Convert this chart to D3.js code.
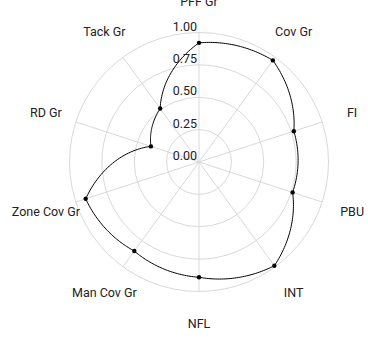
<!DOCTYPE html>
<html>
<head>
<meta charset="utf-8">
<script src="https://cdn.jsdelivr.net/npm/d3@7"></script>
<style>
  html, body { margin: 0; padding: 0; background: #fff; }
  svg { display: block; }
  text { font-family: Roboto, "Noto Sans", sans-serif; }
</style>
</head>
<body>
<svg id="chart" width="368" height="339"></svg>
<script>
// Player profile radar
const categories = ["PFF Gr", "Cov Gr", "FI", "PBU", "INT", "NFL", "Man Cov Gr", "Zone Cov Gr", "RD Gr", "Tack Gr"];
const values = [0.92, 0.97, 0.77, 0.76, 0.99, 0.89, 0.85, 0.92, 0.39, 0.51];
const tickValues = [0, 0.25, 0.5, 0.75, 1];
const tickLabels = ["0.00", "0.25", "0.50", "0.75", "1.00"];

const width = 368, height = 339;
const cx = 199, cy = 162;
const outerRadius = 129.5;
const labelRadius = 161;

const svg = d3.select("#chart");
const g = svg.append("g").attr("transform", `translate(${cx},${cy})`);

const r = d3.scaleLinear().domain([0, 1]).range([0, outerRadius]);
const angle = d3.scaleBand().domain(categories).range([0, 2 * Math.PI]).align(0);
const step = angle.step();
const a = d => angle(d);

const gridColor = "#d9d9d9";

// concentric rings
g.selectAll("circle.ring")
  .data(tickValues.filter(v => v > 0))
  .join("circle")
  .attr("class", "ring")
  .attr("r", d => r(d))
  .attr("fill", "none")
  .attr("stroke", gridColor)
  .attr("stroke-width", 1);

// spokes
g.selectAll("line.spoke")
  .data(categories)
  .join("line")
  .attr("class", "spoke")
  .attr("x1", 0).attr("y1", 0)
  .attr("x2", d => r(1) * Math.sin(a(d)))
  .attr("y2", d => -r(1) * Math.cos(a(d)))
  .attr("stroke", gridColor)
  .attr("stroke-width", 1);

// axis labels
g.selectAll("text.cat")
  .data(categories)
  .join("text")
  .attr("class", "cat")
  .attr("x", d => labelRadius * Math.sin(a(d)))
  .attr("y", d => -labelRadius * Math.cos(a(d)))
  .attr("text-anchor", "middle")
  .attr("dominant-baseline", "central")
  .attr("font-size", 12.5)
  .attr("fill", "#222")
  .text(d => d);

// data outline: straight lines in polar space (angle and radius both
// change linearly between neighbouring axes), closed back to the start
const pts = categories.map((c, i) => ({ c, v: values[i] }));
function polarPath(points) {
  const out = [];
  const n = points.length;
  const sub = 40;
  for (let i = 0; i < n; i++) {
    const p0 = points[i], p1 = points[(i + 1) % n];
    const a0 = a(p0.c);
    for (let k = 0; k < sub; k++) {
      const t = k / sub;
      out.push([a0 + t * step, r(p0.v) + t * (r(p1.v) - r(p0.v))]);
    }
  }
  return out;
}
const line = d3.lineRadial()
  .angle(d => d[0])
  .radius(d => d[1])
  .curve(d3.curveLinearClosed);

g.append("path")
  .datum(polarPath(pts))
  .attr("d", line)
  .attr("fill", "none")
  .attr("stroke", "#000")
  .attr("stroke-width", 1);

g.selectAll("circle.pt")
  .data(pts)
  .join("circle")
  .attr("class", "pt")
  .attr("cx", d => r(d.v) * Math.sin(a(d.c)))
  .attr("cy", d => -r(d.v) * Math.cos(a(d.c)))
  .attr("r", 2.2)
  .attr("fill", "#000");

// radial tick labels
g.selectAll("text.tick")
  .data(tickValues)
  .join("text")
  .attr("class", "tick")
  .attr("x", -2)
  .attr("y", d => -r(d) - 2)
  .attr("text-anchor", "end")
  .attr("font-size", 12.5)
  .attr("fill", "#222")
  .text((d, i) => tickLabels[i]);
</script>
</body>
</html>
